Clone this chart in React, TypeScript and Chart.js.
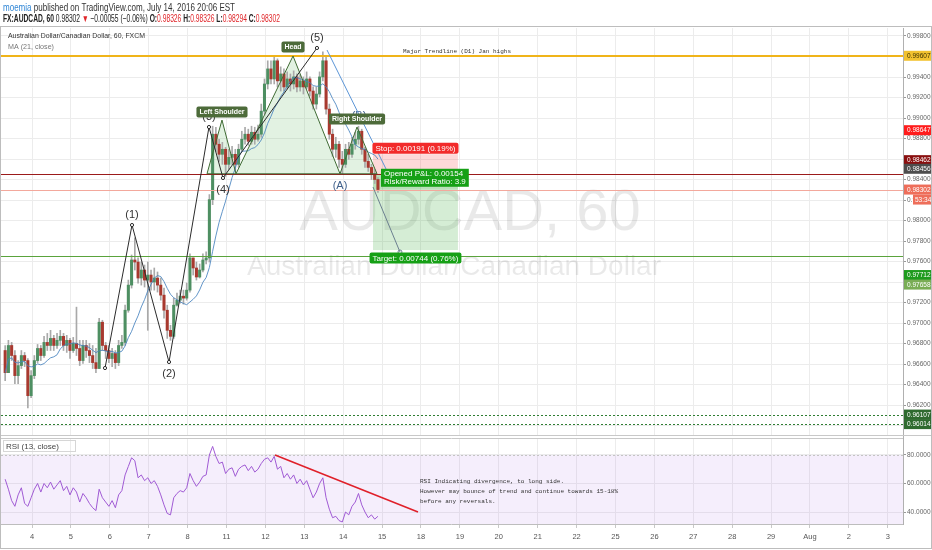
import React, { useEffect, useRef } from "react";
import { Chart, registerables } from "chart.js";
Chart.register(...registerables);

// ---------- DATA ----------
const DAY_LABELS = ["4","5","6","7","8","11","12","13","14","15","18","19","20","21","22","25","26","27","28","29","Aug","2","3"];
const FIRST_BAR_DAY = -0.69; // first 2h bar, in trading-day units (0 = Jul 4)
const BAR_STEP = 2 / 24;
const OPEN0 = 0.96732;
const CLOSES = [
  0.96516, 0.96781, 0.96683, 0.96487, 0.96585, 0.96683, 0.96634, 0.96291, 0.96487, 0.96634,
  0.96752, 0.96683, 0.96811, 0.96781, 0.96850, 0.96781, 0.96831, 0.96870, 0.96781, 0.96831,
  0.96732, 0.96801, 0.96752, 0.96634, 0.96781, 0.96732, 0.96683, 0.96614, 0.96556, 0.97008,
  0.96781, 0.96732, 0.96654, 0.96703, 0.96614, 0.96781, 0.96811, 0.97125, 0.97370, 0.97615,
  0.97595, 0.97439, 0.97517, 0.97419, 0.97468, 0.97400, 0.97439, 0.97370, 0.97272, 0.97125,
  0.96929, 0.96870, 0.97174, 0.97223, 0.97262, 0.97243, 0.97321, 0.97635, 0.97537, 0.97449,
  0.97517, 0.97615, 0.97635, 0.98204, 0.98842, 0.98744, 0.98646, 0.98695, 0.98548, 0.98616,
  0.98646, 0.98548, 0.98695, 0.98793, 0.98842, 0.98773, 0.98861, 0.98793, 0.98842, 0.99067,
  0.99332, 0.99479, 0.99381, 0.99558, 0.99362, 0.99430, 0.99303, 0.99381, 0.99332, 0.99401,
  0.99303, 0.99362, 0.99303, 0.99381, 0.99263, 0.99136, 0.99234, 0.99401, 0.99558, 0.99087,
  0.98842, 0.98695, 0.98744, 0.98597, 0.98548, 0.98695, 0.98646, 0.98744, 0.98793, 0.98871,
  0.98695, 0.98577, 0.98518, 0.98449, 0.98400, 0.98302,
];
const HIGHS = [
  0.96781, 0.96831, 0.96811, 0.96732, 0.96634, 0.96732, 0.96713, 0.96654, 0.96536, 0.96683,
  0.96791, 0.96781, 0.96870, 0.96899, 0.96929, 0.96880, 0.96899, 0.96929, 0.96899, 0.96880,
  0.96850, 0.96860, 0.97155, 0.96831, 0.96831, 0.96831, 0.96801, 0.96781, 0.96752, 0.97047,
  0.97027, 0.96811, 0.96781, 0.96752, 0.96732, 0.96831, 0.96880, 0.97174, 0.97419, 0.97664,
  0.97831, 0.97635, 0.97595, 0.97566, 0.97595, 0.97517, 0.97537, 0.97498, 0.97439, 0.97341,
  0.97174, 0.96978, 0.97243, 0.97292, 0.97321, 0.97321, 0.97390, 0.97674, 0.97635, 0.97595,
  0.97576, 0.97674, 0.97694, 0.98253, 0.98920, 0.98910, 0.98793, 0.98763, 0.98714, 0.98695,
  0.98724, 0.98695, 0.98744, 0.98871, 0.98910, 0.98891, 0.98920, 0.98910, 0.98930, 0.99136,
  0.99381, 0.99558, 0.99558, 0.99607, 0.99577, 0.99499, 0.99479, 0.99450, 0.99430, 0.99460,
  0.99430, 0.99420, 0.99401, 0.99450, 0.99401, 0.99303, 0.99303, 0.99450, 0.99646, 0.99597,
  0.99136, 0.98891, 0.98812, 0.98773, 0.98675, 0.98744, 0.98763, 0.98812, 0.98861, 0.98920,
  0.98891, 0.98714, 0.98646, 0.98548, 0.98498, 0.98420,
];
const LOWS = [
  0.96438, 0.96516, 0.96634, 0.96409, 0.96409, 0.96556, 0.96575, 0.96173, 0.96271, 0.96458,
  0.96614, 0.96634, 0.96664, 0.96732, 0.96732, 0.96732, 0.96752, 0.96781, 0.96732, 0.96713,
  0.96654, 0.96713, 0.96683, 0.96585, 0.96605, 0.96664, 0.96614, 0.96556, 0.96516, 0.96556,
  0.96732, 0.96654, 0.96614, 0.96575, 0.96556, 0.96585, 0.96752, 0.96781, 0.97105, 0.97341,
  0.97517, 0.97390, 0.97370, 0.97351, 0.96929, 0.97321, 0.97321, 0.97302, 0.97223, 0.97047,
  0.96850, 0.96831, 0.96850, 0.97164, 0.97194, 0.97184, 0.97223, 0.97302, 0.97468, 0.97419,
  0.97439, 0.97498, 0.97576, 0.97595, 0.98155, 0.98675, 0.98577, 0.98548, 0.98430, 0.98498,
  0.98548, 0.98479, 0.98518, 0.98675, 0.98744, 0.98734, 0.98744, 0.98744, 0.98773, 0.98812,
  0.99038, 0.99283, 0.99332, 0.99332, 0.99303, 0.99263, 0.99263, 0.99283, 0.99263, 0.99283,
  0.99254, 0.99263, 0.99234, 0.99283, 0.99214, 0.99087, 0.99087, 0.99205, 0.99362, 0.99038,
  0.98793, 0.98626, 0.98616, 0.98518, 0.98449, 0.98518, 0.98597, 0.98616, 0.98695, 0.98744,
  0.98646, 0.98518, 0.98479, 0.98400, 0.98361, 0.98273,
];
const RSI13 = [
  63, 56, 48, 44, 52, 57, 46, 44, 50, 56,
  60, 54, 60, 57, 61, 56, 59, 62, 55, 58,
  52, 57, 54, 47, 53, 50, 46, 43, 41, 56,
  50, 47, 44, 48, 43, 52, 55, 66, 72, 78,
  76, 64, 66, 62, 64, 60, 62, 58, 52, 45,
  39, 38, 50, 53, 55, 54, 57, 67, 62, 58,
  61, 65, 66, 80, 86, 79, 74, 75, 67, 70,
  71, 65, 70, 72, 73, 69, 72, 68, 70, 74,
  77, 78, 75, 79, 70, 72, 64, 67, 63, 66,
  60, 63, 59, 62, 56, 50, 54, 60, 64, 50,
  42, 36, 37, 34, 33, 40, 38, 44, 47, 53,
  45, 40, 36, 38, 35, 37,
];
const MA_PERIOD_BARS = 10; // ~21 hourly bars on 2h candles

// horizontal levels
const LEVEL_YELLOW = 0.99607;
const LEVEL_NECK = 0.98456;
const LEVEL_LAST = 0.98302;
const LEVEL_TARGET_LINE = 0.97658;
const LEVEL_DOTTED = [0.96107, 0.96014];

// drawings: [day, price]
const WAVE_POINTS = [[1.877, 0.96561], [2.571, 0.97956], [3.522, 0.96620], [4.550, 0.98912], [4.910, 0.98415], [7.326, 0.99683]];
const WAVE_LABELS = ["", "(1)", "(2)", "(3)", "(4)", "(5)"];
const HS_POINTS = [[4.499, 0.98456], [4.884, 0.98980], [5.244, 0.98456], [6.710, 0.99605], [7.918, 0.98456], [8.355, 0.98912], [8.869, 0.98456]];
const ABC_LABELS = [["(A)", 7.918, 0.98456], ["(B)", 8.355, 0.98912]];
const BLUE_TREND = [[7.584, 0.99663], [9.280, 0.98366]];
const PROJECTION = [[8.766, 0.98327], [9.460, 0.97693]];
const POSITION = { t0: 8.766, t1: 10.95, entry: 0.98456, stop: 0.98647, target: 0.97712, last: 0.98302 };
const RSI_TREND = [[6.247, 80], [9.923, 40]];
const RSI_BAND = [20, 80];
const RSI_TICKS = [40, 60, 80];

const PRICE_LABELS = [
  { value: 0.99607, text: "0.99607", bg: "#f2c230", fg: "#3a3000", dy: 0 },
  { value: 0.98647, text: "0.98647", bg: "#ff1c1c", fg: "#fff", dy: -24 },
  { value: 0.98462, text: "0.98462", bg: "#8a1010", fg: "#fff", dy: -13 },
  { value: 0.98456, text: "0.98456", bg: "#4e4e4e", fg: "#fff", dy: -5 },
  { value: 0.98302, text: "0.98302", bg: "#ee6e5a", fg: "#fff", dy: 0 },
  { value: 0.97712, text: "0.97712", bg: "#1e9b1e", fg: "#fff", dy: 25 },
  { value: 0.97658, text: "0.97658", bg: "#79ad55", fg: "#fff", dy: 29 },
  { value: 0.96107, text: "0.96107", bg: "#2f6a2f", fg: "#fff", dy: 0 },
  { value: 0.96014, text: "0.96014", bg: "#2f6a2f", fg: "#fff", dy: 0 },
];

const FONT = "'Liberation Sans', Arial, sans-serif";
const MONO = "'Liberation Mono', 'DejaVu Sans Mono', monospace";

// ---------- derived ----------
const TIMES = CLOSES.map((_, i) => FIRST_BAR_DAY + i * BAR_STEP);
const OPENS = CLOSES.map((_, i) => (i === 0 ? OPEN0 : CLOSES[i - 1]));
const HI = HIGHS.map((h, i) => Math.max(h, OPENS[i], CLOSES[i]));
const LO = LOWS.map((l, i) => Math.min(l, OPENS[i], CLOSES[i]));
const MA = CLOSES.map((_, i) => {
  const s = Math.max(0, i - MA_PERIOD_BARS + 1);
  const seg = CLOSES.slice(s, i + 1);
  return seg.reduce((a, b) => a + b, 0) / seg.length;
});

// draws a run of coloured text pieces, squeezed horizontally to a target width
function fitSegments(ctx: CanvasRenderingContext2D, x: number, y: number, segs: any[], targetW: number) {
  let total = 0;
  for (const s of segs) { ctx.font = s.font; total += ctx.measureText(s.text).width; }
  const k = Math.min(1, targetW / total);
  ctx.save();
  ctx.translate(x, y);
  ctx.scale(k, 1);
  let cx = 0;
  for (const s of segs) {
    ctx.font = s.font;
    ctx.fillStyle = s.color;
    ctx.fillText(s.text, cx, 0);
    cx += ctx.measureText(s.text).width;
  }
  ctx.restore();
}

function tag(ctx: CanvasRenderingContext2D, text: string, cx: number, cy: number, bg: string, font: string, padX = 3, h = 11) {
  ctx.font = font;
  const w = ctx.measureText(text).width + padX * 2;
  ctx.fillStyle = bg;
  ctx.beginPath();
  (ctx as any).roundRect ? (ctx as any).roundRect(cx - w / 2, cy - h / 2, w, h, 2) : ctx.rect(cx - w / 2, cy - h / 2, w, h);
  ctx.fill();
  ctx.fillStyle = "#fff";
  ctx.textAlign = "center";
  ctx.textBaseline = "middle";
  ctx.fillText(text, cx, cy + 0.5);
}

const tvPlugin = {
  id: "tvDrawings",
  beforeDatasetsDraw(chart: any) {
    const { ctx, chartArea, scales } = chart;
    const X = scales.x, Y = scales.y, R = scales.rsi;
    const px = (t: number) => X.getPixelForValue(t);
    const py = (p: number) => Y.getPixelForValue(p);
    ctx.save();
    // RSI band
    const rTop = Math.max(R.top, R.getPixelForValue(RSI_BAND[1]));
    const rBot = Math.min(R.bottom, R.getPixelForValue(RSI_BAND[0]));
    ctx.fillStyle = "rgba(175, 120, 235, 0.13)";
    ctx.fillRect(chartArea.left, rTop, chartArea.right - chartArea.left, rBot - rTop);
    ctx.strokeStyle = "#c4c4c4";
    ctx.setLineDash([2, 2]);
    ctx.lineWidth = 1;
    const yy = Math.round(rTop) + 0.5;
    ctx.beginPath(); ctx.moveTo(chartArea.left, yy); ctx.lineTo(chartArea.right, yy); ctx.stroke();
    ctx.setLineDash([]);

    // watermark
    ctx.fillStyle = "rgba(0,0,0,0.085)";
    ctx.textAlign = "center";
    ctx.textBaseline = "middle";
    ctx.font = `58px 'Liberation Sans', Arial, sans-serif`;
    ctx.fillText("AUDCAD, 60", 470, 214);
    ctx.font = `28px 'Liberation Sans', Arial, sans-serif`;
    ctx.fillText("Australian Dollar/Canadian Dollar", 454, 267);

    // position tool boxes
    const x0 = px(POSITION.t0), x1 = px(POSITION.t1);
    ctx.fillStyle = "rgba(244, 80, 80, 0.22)";
    ctx.fillRect(x0, py(POSITION.stop), x1 - x0, py(POSITION.entry) - py(POSITION.stop));
    ctx.fillStyle = "rgba(80, 180, 80, 0.24)";
    ctx.fillRect(x0, py(POSITION.entry), x1 - x0, py(POSITION.target) - py(POSITION.entry));
    ctx.fillStyle = "rgba(60, 160, 60, 0.18)";
    ctx.fillRect(x0, py(POSITION.entry), x1 - x0, py(POSITION.last) - py(POSITION.entry));

    // H&S fill
    ctx.beginPath();
    HS_POINTS.forEach(([t, p], i) => (i ? ctx.lineTo(px(t), py(p)) : ctx.moveTo(px(t), py(p))));
    ctx.closePath();
    ctx.fillStyle = "rgba(110, 190, 110, 0.2)";
    ctx.fill();
    ctx.restore();
  },
  afterDatasetsDraw(chart: any) {
    const { ctx, chartArea, scales } = chart;
    const X = scales.x, Y = scales.y, R = scales.rsi;
    const px = (t: number) => X.getPixelForValue(t);
    const py = (p: number) => Y.getPixelForValue(p);
    const L = chartArea.left, Rr = chartArea.right;
    ctx.save();
    const hline = (p: number, color: string, w: number, dash: number[] = []) => {
      const yy = Math.round(py(p)) + (w % 2 ? 0.5 : 0);
      ctx.strokeStyle = color; ctx.lineWidth = w; ctx.setLineDash(dash);
      ctx.beginPath(); ctx.moveTo(L, yy); ctx.lineTo(Rr, yy); ctx.stroke();
      ctx.setLineDash([]);
    };
    hline(LEVEL_YELLOW, "#f0b419", 2);
    hline(LEVEL_NECK, "#9b1b1b", 1);
    hline(LEVEL_LAST, "#f3a89c", 1);
    hline(LEVEL_TARGET_LINE, "#5aa33c", 1);
    for (const d of LEVEL_DOTTED) hline(d, "#2e7d32", 1, [2, 2]);

    // H&S outline
    ctx.strokeStyle = "#3f6b34";
    ctx.lineWidth = 1;
    ctx.beginPath();
    HS_POINTS.forEach(([t, p], i) => (i ? ctx.lineTo(px(t), py(p)) : ctx.moveTo(px(t), py(p))));
    ctx.closePath();
    ctx.stroke();

    // Elliott wave
    ctx.strokeStyle = "#2b2b2b";
    ctx.beginPath();
    WAVE_POINTS.forEach(([t, p], i) => (i ? ctx.lineTo(px(t), py(p)) : ctx.moveTo(px(t), py(p))));
    ctx.stroke();
    for (const [t, p] of WAVE_POINTS) {
      ctx.beginPath(); ctx.arc(px(t), py(p), 1.6, 0, Math.PI * 2);
      ctx.fillStyle = "#fff"; ctx.fill(); ctx.stroke();
    }
    ctx.font = `11px 'Liberation Sans', Arial, sans-serif`;
    ctx.textAlign = "center";
    ctx.textBaseline = "middle";
    ctx.fillStyle = "#333";
    WAVE_POINTS.forEach(([t, p], i) => {
      if (!WAVE_LABELS[i]) return;
      const prev = WAVE_POINTS[i - 1][1];
      const up = p > prev;
      ctx.fillText(WAVE_LABELS[i], px(t), py(p) + (up ? -10 : 12));
    });
    ctx.fillStyle = "#3e5f8a";
    ABC_LABELS.forEach(([txt, t, p]: any, i) => {
      ctx.fillText(txt, px(t) + (i ? 2 : 0), py(p) + (i ? -11 : 12));
    });

    // blue trendline and projection
    ctx.strokeStyle = "#5b95d6"; ctx.lineWidth = 1;
    ctx.beginPath(); ctx.moveTo(px(BLUE_TREND[0][0]), py(BLUE_TREND[0][1])); ctx.lineTo(px(BLUE_TREND[1][0]), py(BLUE_TREND[1][1])); ctx.stroke();
    ctx.strokeStyle = "#6b7f8f";
    ctx.beginPath(); ctx.moveTo(px(PROJECTION[0][0]), py(PROJECTION[0][1])); ctx.lineTo(px(PROJECTION[1][0]), py(PROJECTION[1][1])); ctx.stroke();
    ctx.beginPath(); ctx.arc(px(PROJECTION[1][0]), py(PROJECTION[1][1]), 2, 0, Math.PI * 2); ctx.stroke();

    // H&S tags
    const tagFont = `bold 7px ${FONT}`;
    tag(ctx, "Left Shoulder", px(HS_POINTS[1][0]), py(HS_POINTS[1][1]) - 8, "#4d6b3a", tagFont);
    tag(ctx, "Head", px(HS_POINTS[3][0]), py(HS_POINTS[3][1]) - 9, "#4d6b3a", tagFont);
    tag(ctx, "Right Shoulder", px(HS_POINTS[5][0]), py(HS_POINTS[5][1]) - 8, "#4d6b3a", tagFont);

    // position labels
    const pFont = `8px ${FONT}`;
    const cx = (px(POSITION.t0) + px(POSITION.t1)) / 2;
    tag(ctx, "Stop: 0.00191 (0.19%)", cx, py(POSITION.stop) - 6, "#f22b2b", pFont, 3, 11);
    tag(ctx, "Target: 0.00744 (0.76%)", cx, py(POSITION.target) + 8, "#16a016", pFont, 3, 11);
    // opened P&L
    ctx.font = pFont;
    const bx = px(POSITION.t0) + 8, by = py(POSITION.entry) - 5;
    const bw = Math.max(ctx.measureText("Opened P&L: 0.00154").width, ctx.measureText("Risk/Reward Ratio: 3.9").width) + 6;
    ctx.fillStyle = "#16a016";
    ctx.fillRect(bx, by, bw, 18);
    ctx.fillStyle = "#fff"; ctx.textAlign = "left"; ctx.textBaseline = "middle";
    ctx.fillText("Opened P&L: 0.00154", bx + 3, by + 5);
    ctx.fillText("Risk/Reward Ratio: 3.9", bx + 3, by + 13.5);

    // texts
    ctx.font = `6px ${MONO}`;
    ctx.fillStyle = "#333"; ctx.textAlign = "left"; ctx.textBaseline = "middle";
    ctx.fillText("Major Trendline (D1) Jan highs", 403, py(LEVEL_YELLOW) - 4);

    // RSI trend + text
    ctx.strokeStyle = "#e0202a"; ctx.lineWidth = 1.6;
    ctx.beginPath();
    ctx.moveTo(px(RSI_TREND[0][0]), R.getPixelForValue(RSI_TREND[0][1]));
    ctx.lineTo(px(RSI_TREND[1][0]), R.getPixelForValue(RSI_TREND[1][1]));
    ctx.stroke();
    ctx.fillStyle = "#333";
    ctx.fillText("RSI Indicating divergence, to long side.", 420, 481);
    ctx.fillText("However may bounce of trend and continue towards 15-18%", 420, 491);
    ctx.fillText("before any reversals.", 420, 501);
    ctx.restore();
  },
  afterDraw(chart: any) {
    const { ctx, chartArea, scales } = chart;
    const Y = scales.y, R = scales.rsi;
    ctx.save();
    // pane separator
    const sep = Math.round(R.top) + 0.5;
    ctx.fillStyle = "#fff";
    ctx.fillRect(0, R.top - 1, chartArea.right, 3);
    ctx.strokeStyle = "#c8c8c8"; ctx.lineWidth = 1;
    ctx.beginPath(); ctx.moveTo(0, sep - 1); ctx.lineTo(932, sep - 1); ctx.stroke();
    ctx.beginPath(); ctx.moveTo(0, sep + 2); ctx.lineTo(chartArea.right, sep + 2); ctx.stroke();

    // price axis tags
    ctx.font = `6.5px ${FONT}`;
    ctx.textBaseline = "middle"; ctx.textAlign = "left";
    for (const l of PRICE_LABELS) {
      const yy = Y.getPixelForValue(l.value) + l.dy;
      ctx.fillStyle = l.bg;
      ctx.fillRect(chartArea.right + 1, yy - 5, 29, 10);
      ctx.fillStyle = l.fg;
      ctx.fillText(l.text, chartArea.right + 4, yy + 0.5);
    }
    const cy = Y.getPixelForValue(LEVEL_LAST) + 10;
    ctx.fillStyle = "#ee6e5a";
    ctx.fillRect(chartArea.right + 10, cy - 5, 22, 10);
    ctx.fillStyle = "#fff";
    ctx.fillText("53:34", chartArea.right + 12, cy + 0.5);

    // legends inside panes
    ctx.textBaseline = "middle";
    fitSegments(ctx, 8, 36, [{ text: "Australian Dollar/Canadian Dollar, 60, FXCM", color: "#333", font: `8px ${FONT}` }], 137);
    fitSegments(ctx, 8, 47, [{ text: "MA (21, close)", color: "#777", font: `8px ${FONT}` }], 46);
    ctx.strokeStyle = "#d6d6d6";
    ctx.strokeRect(3.5, R.top + 4.5, 72, 11);
    fitSegments(ctx, 6, R.top + 10.5, [{ text: "RSI (13, close)", color: "#444", font: `8px ${FONT}` }], 64);

    // header
    ctx.textBaseline = "alphabetic";
    const h1 = `10px ${FONT}`;
    fitSegments(ctx, 3, 11, [
      { text: "moemia", color: "#2f86d6", font: h1 },
      { text: " published on TradingView.com, July 14, 2016 20:06 EST", color: "#333", font: h1 },
    ], 232);
    const hb = `bold 10px ${FONT}`;
    const red = "#e0262a";
    fitSegments(ctx, 3, 22, [
      { text: "FX:AUDCAD, 60 ", color: "#222", font: hb },
      { text: "0.98302 ", color: "#222", font: h1 },
      { text: "▼", color: red, font: h1 },
      { text: " −0.00055 (−0.06%) ", color: "#222", font: h1 },
      { text: "O:", color: "#222", font: hb },
      { text: "0.98326 ", color: red, font: h1 },
      { text: "H:", color: "#222", font: hb },
      { text: "0.98326 ", color: red, font: h1 },
      { text: "L:", color: "#222", font: hb },
      { text: "0.98294 ", color: red, font: h1 },
      { text: "C:", color: "#222", font: hb },
      { text: "0.98302", color: red, font: h1 },
    ], 277);

    // frame
    ctx.strokeStyle = "#bdbdbd";
    ctx.strokeRect(0.5, chartArea.top - 1.5, 931, 550 - chartArea.top);
    ctx.beginPath(); ctx.moveTo(0, chartArea.bottom + 0.5); ctx.lineTo(chartArea.right, chartArea.bottom + 0.5); ctx.stroke();
    ctx.restore();
  },
};

const X_MIN = -0.797;
const X_MAX = 22.391;

export default function App() {
  const ref = useRef<HTMLCanvasElement | null>(null);
  useEffect(() => {
    if (!ref.current) return;
    const priceTicks: number[] = [];
    for (let v = 960; v <= 998; v += 2) priceTicks.push(v / 1000);
    const upC = "#4e8f62", dnC = "#a8392f";
    const chart = new Chart(ref.current, {
      type: "bar",
      data: {
        datasets: [
          {
            type: "bar",
            label: "wick",
            data: TIMES.map((t, i) => ({ x: t, y: [LO[i], HI[i]] })) as any,
            backgroundColor: "#a9a9a9",
            barThickness: 1,
            grouped: false,
            yAxisID: "y",
            order: 4,
          } as any,
          {
            type: "bar",
            label: "body",
            data: TIMES.map((t, i) => ({ x: t, y: [OPENS[i], CLOSES[i]] })) as any,
            backgroundColor: CLOSES.map((c, i) => (c >= OPENS[i] ? upC : dnC)),
            barThickness: 2.4,
            grouped: false,
            yAxisID: "y",
            order: 3,
          } as any,
          {
            type: "line",
            label: "MA",
            data: TIMES.map((t, i) => ({ x: t, y: MA[i] })) as any,
            borderColor: "rgba(70,130,190,0.85)",
            borderWidth: 1,
            pointRadius: 0,
            tension: 0,
            yAxisID: "y",
            order: 2,
          } as any,
          {
            type: "line",
            label: "RSI",
            data: TIMES.map((t, i) => ({ x: t, y: RSI13[i] })) as any,
            borderColor: "#a05ad4",
            borderWidth: 1,
            pointRadius: 0,
            tension: 0,
            yAxisID: "rsi",
            order: 1,
          } as any,
        ],
      },
      options: {
        animation: false,
        responsive: false,
        maintainAspectRatio: false,
        layout: { padding: { top: 28, left: 1, right: 0, bottom: 0 } },
        plugins: { legend: { display: false }, tooltip: { enabled: false } },
        scales: {
          x: {
            type: "linear",
            offset: false,
            min: X_MIN,
            max: X_MAX,
            afterBuildTicks: (s: any) => { s.ticks = DAY_LABELS.map((_, i) => ({ value: i })); },
            afterFit: (s: any) => { s.height = 26; },
            ticks: {
              autoSkip: false, maxRotation: 0, padding: 4,
              callback: (_v: any, i: number) => DAY_LABELS[i],
              font: { size: 7.5, family: FONT }, color: "#555",
            },
            grid: { color: "#ececec", tickLength: 4, tickColor: "#c8c8c8", offset: false },
            border: { display: false },
          },
          y: {
            type: "linear",
            position: "right",
            stack: "panes",
            stackWeight: 408,
            min: 0.95898,
            max: 0.99878,
            afterBuildTicks: (s: any) => { s.ticks = priceTicks.map((v) => ({ value: v })); },
            afterFit: (s: any) => { s.width = 29; },
            ticks: { callback: (v: any) => Number(v).toFixed(5), font: { size: 6.5, family: FONT }, color: "#666", padding: 1 },
            grid: { color: "#ececec", tickLength: 3, tickColor: "#999" },
            border: { display: true, color: "#b0b0b0" },
          },
          rsi: {
            type: "linear",
            position: "right",
            stack: "panes",
            stackWeight: 88,
            min: 31.6,
            max: 93.3,
            afterBuildTicks: (s: any) => { s.ticks = RSI_TICKS.map((v) => ({ value: v })); },
            afterFit: (s: any) => { s.width = 29; },
            ticks: { callback: (v: any) => Number(v).toFixed(4), font: { size: 6.5, family: FONT }, color: "#666", padding: 1 },
            grid: { color: "#ececec", tickLength: 3, tickColor: "#999" },
            border: { display: true, color: "#b0b0b0" },
          },
        } as any,
      },
      plugins: [tvPlugin as any],
    });
    return () => chart.destroy();
  }, []);
  return (
    <div style={{ position: "fixed", left: 0, top: 0, width: 932, height: 550, background: "#fff" }}>
      <canvas ref={ref} width={932} height={550} style={{ width: 932, height: 550, display: "block" }} />
    </div>
  );
}
